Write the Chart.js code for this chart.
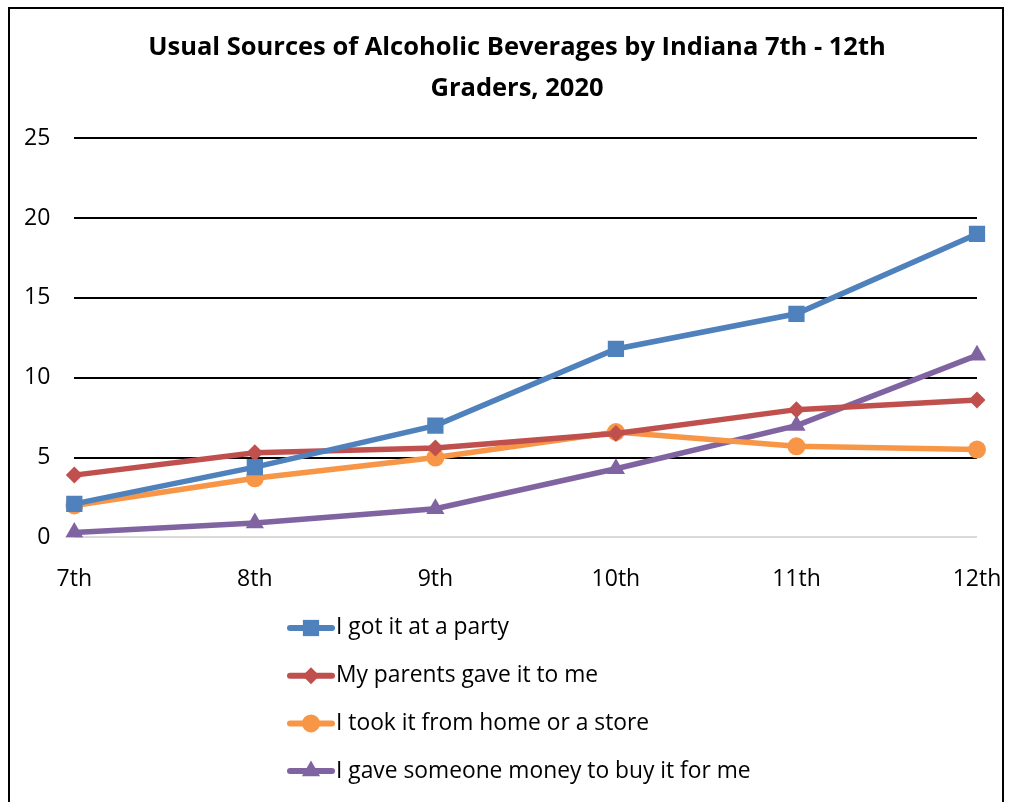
<!DOCTYPE html>
<html>
<head>
<meta charset="utf-8">
<script src="https://cdn.jsdelivr.net/npm/chart.js@4"></script>
<style>
  html, body { margin: 0; padding: 0; background: #fff; }
  #wrap { position: relative; width: 1012px; height: 802px; }
  #frame { position: absolute; left: 8px; top: 7px; width: 996px; height: 800px; border: 2px solid #000; box-sizing: border-box; }
  canvas { position: absolute; left: 0; top: 0; }
</style>
</head>
<body>
<div id="wrap">
  <div id="frame"></div>
  <canvas id="sourcesChart" width="1012" height="802"></canvas>
</div>
<script>
// grades along the x axis
var grades = ['7th', '8th', '9th', '10th', '11th', '12th'];

// percent of students per source
var party = [2.1, 4.4, 7.0, 11.8, 14.0, 19.0];
var parents = [3.9, 5.3, 5.6, 6.5, 8.0, 8.6];
var homeStore = [2.0, 3.7, 5.0, 6.6, 5.7, 5.5];
var gaveMoney = [0.3, 0.9, 1.8, 4.3, 7.0, 11.4];

var seriesNames = ['I got it at a party', 'My parents gave it to me', 'I took it from home or a store', 'I gave someone money to buy it for me'];
var yTicks = [0, 5, 10, 15, 20, 25];

var FONT = 'Open Sans, Noto Sans, sans-serif';

// draws the vertical legend under the plot, Excel style
var sideLegend = {
    id: 'sideLegend',
    afterDraw: function (chart) {
        var c = chart.ctx;
        var x0 = 290, y0 = 628, gap = 47.7;
        chart.data.datasets.forEach(function (ds, i) {
            var y = y0 + i * gap;
            c.save();
            c.strokeStyle = ds.borderColor;
            c.lineWidth = 6;
            c.lineCap = 'round';
            c.beginPath();
            c.moveTo(x0, y);
            c.lineTo(x0 + 42, y);
            c.stroke();
            c.fillStyle = ds.backgroundColor;
            c.strokeStyle = ds.backgroundColor;
            Chart.helpers.drawPoint(c, {
                pointStyle: ds.pointStyle,
                radius: ds.pointRadius,
                rotation: 0,
                borderWidth: 0
            }, x0 + 21, y);
            c.fillStyle = '#000';
            c.font = '22.8px ' + FONT;
            c.textBaseline = 'middle';
            c.fillText(ds.label, x0 + 46, y);
            c.restore();
        });
    }
};

var ctx = document.getElementById('sourcesChart').getContext('2d');
var sourcesChart = new Chart(ctx, {
    type: 'line',
    data: {
        labels: grades,
        datasets: [{
            label: seriesNames[0],
            data: party,
            borderColor: '#4F81BD',
            backgroundColor: '#4F81BD',
            borderWidth: 5.5,
            pointStyle: 'rect',
            pointRadius: 11.5,
            pointBorderWidth: 0
        }, {
            label: seriesNames[1],
            data: parents,
            borderColor: '#C0504D',
            backgroundColor: '#C0504D',
            borderWidth: 5.5,
            pointStyle: 'rectRot',
            pointRadius: 8.5,
            pointBorderWidth: 0
        }, {
            label: seriesNames[2],
            data: homeStore,
            borderColor: '#F79646',
            backgroundColor: '#F79646',
            borderWidth: 5.5,
            pointStyle: 'circle',
            pointRadius: 9,
            pointBorderWidth: 0
        }, {
            label: seriesNames[3],
            data: gaveMoney,
            borderColor: '#8064A2',
            backgroundColor: '#8064A2',
            borderWidth: 5.5,
            pointStyle: 'triangle',
            pointRadius: 10.5,
            pointBorderWidth: 0
        }]
    },
    options: {
        responsive: false,
        animation: false,
        layout: {
            padding: { top: 27, left: 22, right: 0, bottom: 189 }
        },
        plugins: {
            legend: { display: false },
            tooltip: { enabled: false },
            title: {
                display: true,
                text: ['Usual Sources of Alcoholic Beverages by Indiana 7th - 12th', 'Graders, 2020'],
                color: '#000',
                font: { family: FONT, size: 25.5, weight: 'bold', lineHeight: 1.62 },
                padding: { top: 0, bottom: 28.5 }
            }
        },
        scales: {
            x: {
                offset: false,
                grid: { display: false },
                border: { display: false },
                ticks: { color: '#000', font: { family: FONT, size: 23 }, padding: 20, maxRotation: 0 },
                afterFit: function (s) { s.paddingRight = 35; }
            },
            y: {
                min: 0,
                max: 25,
                afterBuildTicks: function (axis) {
                    axis.ticks = yTicks.map(function (v) { return { value: v }; });
                },
                afterFit: function (s) { s.width = s.width - 22; },
                grid: {
                    color: function (c) { return c.tick && c.tick.value === 0 ? '#d9d9d9' : '#000'; },
                    lineWidth: 2,
                    drawTicks: false
                },
                border: { display: false },
                ticks: { color: '#000', font: { family: FONT, size: 23 }, padding: 24 }
            }
        }
    },
    plugins: [sideLegend]
});
</script>
</body>
</html>
